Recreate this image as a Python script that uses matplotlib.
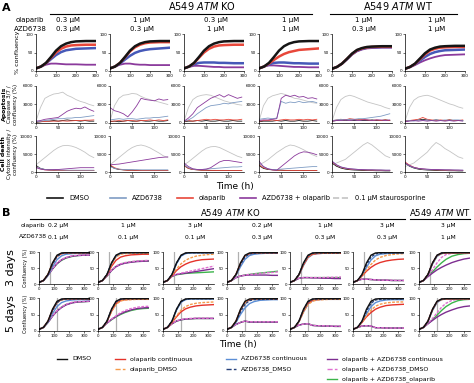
import matplotlib
matplotlib.use('Agg')
import matplotlib.pyplot as plt
from matplotlib.lines import Line2D

# ---------------- panel A data ----------------
a_ola_conc = ['0.3 μM', '1 μM', '0.3 μM', '1 μM', '1 μM', '1 μM']
a_azd_conc = ['0.3 μM', '0.3 μM', '1 μM', '1 μM', '0.3 μM', '1 μM']

t_conf = [0, 25, 50, 75, 100, 125, 150, 175, 200, 250, 300]
conf_dmso = [
    [7, 12, 22, 38, 55, 67, 74, 78, 80, 81, 81],
    [7, 12, 22, 38, 55, 67, 74, 78, 80, 81, 81],
    [7, 12, 22, 38, 55, 67, 74, 78, 80, 81, 81],
    [7, 12, 22, 38, 55, 67, 74, 78, 80, 81, 81],
    [6, 11, 20, 33, 47, 57, 62, 65, 66, 67, 67],
    [6, 11, 20, 34, 48, 58, 63, 66, 67, 68, 68],
]
conf_ola = [
    [7, 12, 21, 36, 50, 60, 66, 69, 70, 71, 71],
    [7, 12, 22, 37, 53, 64, 71, 75, 77, 78, 78],
    [7, 12, 21, 36, 50, 60, 66, 69, 70, 71, 71],
    [7, 12, 20, 30, 39, 46, 51, 54, 57, 59, 61],
    [6, 11, 20, 33, 46, 56, 61, 64, 65, 66, 66],
    [6, 11, 19, 32, 45, 55, 60, 63, 64, 65, 65],
]
conf_azd = [
    [7, 12, 20, 32, 43, 51, 56, 58, 60, 61, 62],
    [7, 12, 20, 31, 41, 49, 54, 57, 59, 61, 63],
    [7, 12, 18, 22, 23, 23, 23, 22, 22, 21, 21],
    [7, 12, 18, 22, 23, 23, 22, 21, 21, 20, 20],
    [6, 11, 20, 32, 45, 55, 60, 63, 64, 65, 65],
    [6, 11, 18, 28, 38, 46, 51, 54, 56, 57, 58],
]
conf_combo = [
    [7, 12, 17, 20, 20, 19, 18, 18, 18, 17, 17],
    [7, 12, 17, 20, 20, 18, 17, 17, 16, 16, 16],
    [7, 11, 14, 14, 13, 12, 11, 11, 10, 10, 10],
    [7, 12, 15, 15, 14, 13, 12, 11, 11, 10, 10],
    [6, 11, 19, 31, 44, 53, 58, 61, 62, 63, 63],
    [6, 10, 16, 23, 29, 34, 38, 41, 43, 44, 45],
]

t_apo = [0, 10, 20, 30, 40, 50, 60, 70, 80, 90, 100, 110, 120, 130]
apo_stau = [
    [300, 2500, 4000, 4400, 4700, 4800, 5000, 4500, 4200, 3800, 3500, 3300, 3000, 2800],
    [300, 2800, 4000, 4500, 4600, 4800, 4700, 4300, 4000, 3800, 3600, 3400, 3200, 3000],
    [300, 2500, 3800, 4300, 4500, 4600, 4500, 4200, 3900, 3600, 3400, 3200, 3000, 2900],
    [300, 2800, 4000, 4400, 4600, 4800, 4600, 4300, 4000, 3900, 3700, 3500, 3300, 3200],
    [300, 2500, 3800, 4300, 4500, 4300, 4000, 3700, 3400, 3200, 3000, 2800, 2500, 2300],
    [300, 2500, 3700, 4200, 4400, 4500, 4300, 4000, 3700, 3400, 3100, 2900, 2600, 2400],
]
apo_combo = [
    [300, 400, 600, 700, 800, 900, 1400, 1900, 2200, 2400, 2300, 2600, 2200, 1900],
    [2500, 2000, 1800, 1500, 1000, 1800, 2800, 4000, 3800, 3700, 3600, 3900, 3700, 3800],
    [300, 800, 1500, 2500, 3000, 3500, 4000, 4300, 4600, 4200, 4600, 4300, 4000, 4200],
    [400, 500, 500, 600, 700, 4000, 4500, 4300, 4500, 4200, 4300, 4000, 4100, 3900],
    [300, 400, 400, 500, 400, 500, 400, 500, 500, 400, 500, 500, 400, 500],
    [200, 300, 400, 300, 400, 300, 400, 300, 400, 300, 400, 300, 400, 300],
]
apo_azd = [
    [200, 300, 400, 500, 600, 700, 700, 800, 800, 900, 900, 1000, 1100, 1200],
    [500, 600, 700, 600, 700, 700, 600, 700, 800, 800, 900, 900, 1000, 1100],
    [300, 500, 900, 1500, 2000, 2500, 2800, 2900, 3000, 3200, 3100, 3300, 3400, 3500],
    [600, 700, 800, 700, 800, 3500, 3200, 3400, 3300, 3500, 3300, 3400, 3500, 3300],
    [400, 500, 600, 500, 600, 600, 700, 700, 800, 900, 1000, 1100, 1300, 1500],
    [300, 400, 300, 500, 400, 500, 400, 500, 400, 500, 400, 500, 500, 400],
]
apo_ola = [
    [200, 200, 250, 300, 300, 300, 350, 300, 350, 400, 400, 450, 450, 500],
    [300, 300, 400, 300, 400, 400, 300, 400, 400, 500, 400, 500, 400, 500],
    [300, 400, 300, 400, 500, 600, 500, 600, 500, 500, 600, 500, 500, 600],
    [300, 400, 400, 500, 400, 500, 600, 500, 500, 600, 500, 600, 500, 600],
    [300, 500, 600, 500, 700, 600, 500, 600, 500, 400, 500, 400, 500, 400],
    [300, 400, 500, 600, 900, 600, 500, 400, 500, 400, 500, 400, 400, 500],
]
apo_dmso = [
    [100, 200, 300, 300, 400, 300, 400, 500, 400, 400, 300, 400, 300, 300],
    [200, 300, 200, 300, 400, 300, 300, 400, 300, 300, 400, 300, 300, 400],
    [200, 300, 300, 400, 300, 400, 300, 300, 400, 300, 300, 400, 300, 300],
    [200, 300, 300, 300, 400, 300, 400, 300, 300, 400, 300, 300, 400, 300],
    [300, 400, 500, 400, 500, 400, 500, 400, 400, 500, 400, 400, 500, 400],
    [300, 400, 400, 500, 600, 500, 400, 500, 400, 400, 500, 400, 400, 400],
]

t_cyt = [0, 10, 20, 30, 40, 50, 60, 70, 80, 90, 100, 110, 120, 130]
cyt_stau = [
    [2000, 3000, 4000, 5000, 6000, 6800, 7300, 7400, 7200, 6800, 6200, 5500, 4600, 4000],
    [2000, 3000, 4000, 5000, 6000, 6800, 7300, 7500, 7200, 6700, 6000, 5300, 4500, 4000],
    [2000, 2800, 3800, 4800, 5800, 6600, 7000, 7100, 6800, 6200, 5600, 5000, 4400, 4000],
    [2000, 2600, 3400, 4400, 5400, 6200, 7000, 7500, 7300, 6800, 6200, 5500, 4800, 4300],
    [2000, 2500, 3000, 3500, 4500, 5500, 6500, 7500, 8200, 7500, 6500, 5500, 4500, 4000],
    [1500, 2000, 2500, 3500, 4500, 5500, 7000, 8200, 7500, 6500, 5800, 5000, 4200, 3800],
]
cyt_combo = [
    [1200, 800, 600, 600, 650, 700, 800, 900, 1000, 1100, 1200, 1200, 1200, 1200],
    [2000, 2100, 2200, 2400, 2600, 2800, 3000, 3200, 3400, 3600, 3800, 4000, 4100, 4200],
    [2500, 1500, 900, 700, 700, 800, 1200, 2000, 2800, 3200, 3200, 3000, 2800, 2600],
    [3000, 1500, 900, 600, 500, 1500, 2500, 3500, 4500, 5200, 5600, 5500, 5200, 4800],
    [3000, 2000, 1400, 1100, 900, 800, 700, 650, 600, 600, 550, 550, 500, 500],
    [2500, 1800, 1300, 1000, 900, 800, 700, 700, 650, 600, 600, 550, 550, 500],
]
cyt_azd = [
    [1500, 1000, 700, 600, 600, 550, 550, 500, 500, 500, 500, 500, 500, 500],
    [1500, 1000, 800, 700, 700, 650, 650, 600, 600, 600, 600, 600, 600, 600],
    [2000, 1200, 800, 700, 700, 800, 900, 1000, 1100, 1200, 1300, 1400, 1400, 1500],
    [2500, 1500, 900, 700, 700, 800, 900, 1000, 1100, 1200, 1300, 1400, 1500, 1500],
    [3000, 2000, 1400, 1100, 900, 800, 700, 650, 600, 600, 550, 550, 500, 500],
    [2500, 1700, 1200, 1000, 800, 700, 700, 650, 600, 600, 550, 550, 500, 500],
]
cyt_ola = [
    [1500, 900, 600, 500, 500, 450, 400, 400, 400, 400, 400, 400, 400, 400],
    [2000, 1200, 800, 600, 500, 500, 450, 450, 400, 400, 400, 400, 400, 400],
    [1800, 1000, 700, 600, 500, 500, 450, 450, 400, 400, 400, 400, 400, 400],
    [2000, 1200, 800, 600, 500, 500, 450, 450, 400, 400, 400, 400, 400, 400],
    [2800, 1900, 1300, 1000, 800, 700, 650, 600, 550, 500, 500, 450, 450, 400],
    [2800, 1900, 1300, 1000, 800, 700, 650, 600, 550, 500, 500, 450, 450, 400],
]
cyt_dmso = [
    [1800, 1000, 700, 600, 500, 500, 400, 400, 400, 400, 400, 400, 400, 400],
    [1800, 1000, 700, 600, 500, 500, 400, 400, 400, 400, 400, 400, 400, 400],
    [1800, 1000, 700, 600, 500, 500, 400, 400, 400, 400, 400, 400, 400, 400],
    [1800, 1000, 700, 600, 500, 500, 400, 400, 400, 400, 400, 400, 400, 400],
    [2500, 1600, 1100, 800, 650, 550, 500, 450, 400, 400, 350, 350, 300, 300],
    [2500, 1600, 1100, 800, 650, 550, 500, 450, 400, 400, 350, 350, 300, 300],
]

# ---------------- panel B data ----------------
b_ola_conc = ['0.2 μM', '1 μM', '3 μM', '0.2 μM', '1 μM', '3 μM', '3 μM']
b_azd_conc = ['0.1 μM', '0.1 μM', '0.1 μM', '0.3 μM', '0.3 μM', '0.3 μM', '1 μM']
b_release = [72, 120]          # time of drug release (3 days, 5 days)

tb = [0, 30, 60, 90, 120, 150, 180, 220, 260, 300, 340]
b_dmso = [5, 11, 30, 66, 90, 97, 98, 98, 98, 98, 98]

b3_ola = [
    [5, 11, 30, 63, 87, 95, 97, 97, 97, 97, 97],
    [5, 11, 28, 55, 74, 84, 88, 91, 92, 93, 93],
    [5, 11, 26, 42, 54, 62, 68, 73, 76, 77, 78],
    [5, 11, 30, 64, 88, 95, 97, 97, 97, 97, 97],
    [5, 11, 29, 60, 84, 93, 95, 96, 96, 96, 96],
    [5, 11, 25, 40, 52, 61, 67, 72, 75, 77, 78],
    [5, 11, 30, 65, 89, 96, 97, 97, 97, 97, 97],
]
b3_ola_d = [
    [5, 11, 31, 64, 88, 95, 97, 97, 97, 97, 97],
    [5, 11, 29, 60, 84, 93, 95, 96, 96, 96, 96],
    [5, 11, 27, 47, 63, 74, 81, 87, 90, 92, 93],
    [5, 11, 30, 63, 87, 95, 97, 97, 97, 97, 97],
    [5, 11, 29, 61, 85, 94, 96, 96, 96, 96, 96],
    [5, 11, 26, 44, 61, 75, 83, 89, 92, 94, 95],
    [5, 11, 30, 64, 88, 95, 97, 97, 97, 97, 97],
]
b3_azd = [
    [5, 11, 27, 54, 76, 88, 93, 95, 96, 96, 96],
    [5, 11, 29, 62, 86, 95, 97, 97, 97, 97, 97],
    [5, 11, 29, 63, 87, 95, 97, 97, 97, 97, 97],
    [5, 11, 27, 54, 77, 89, 93, 95, 96, 96, 96],
    [5, 11, 28, 58, 82, 92, 95, 96, 96, 96, 96],
    [5, 11, 27, 52, 75, 88, 93, 95, 96, 96, 96],
    [5, 11, 29, 62, 86, 95, 97, 97, 97, 97, 97],
]
b3_azd_d = [
    [5, 11, 29, 62, 86, 95, 97, 97, 97, 97, 97],
    [5, 11, 30, 65, 89, 96, 98, 98, 98, 98, 98],
    [5, 11, 30, 65, 89, 96, 98, 98, 98, 98, 98],
    [5, 11, 29, 61, 85, 94, 96, 97, 97, 97, 97],
    [5, 11, 30, 64, 88, 96, 97, 97, 97, 97, 97],
    [5, 11, 29, 60, 84, 94, 96, 97, 97, 97, 97],
    [5, 11, 30, 65, 89, 96, 98, 98, 98, 98, 98],
]
b3_combo = [
    [5, 11, 27, 47, 64, 75, 82, 87, 89, 90, 90],
    [5, 11, 25, 42, 54, 61, 65, 68, 70, 71, 72],
    [5, 11, 24, 30, 32, 34, 36, 39, 42, 45, 48],
    [5, 11, 20, 25, 27, 28, 28, 28, 28, 27, 27],
    [5, 11, 18, 20, 20, 19, 19, 18, 18, 17, 17],
    [5, 11, 15, 15, 14, 13, 12, 12, 11, 11, 11],
    [5, 11, 23, 34, 44, 52, 59, 67, 73, 78, 81],
]
b3_combo_d = [
    [5, 11, 27, 48, 66, 77, 83, 88, 90, 91, 91],
    [5, 11, 25, 43, 56, 63, 67, 70, 72, 73, 74],
    [5, 11, 24, 31, 34, 37, 40, 44, 48, 52, 56],
    [5, 11, 20, 25, 28, 30, 31, 33, 35, 36, 38],
    [5, 11, 18, 20, 20, 20, 20, 20, 21, 21, 22],
    [5, 11, 15, 15, 14, 13, 12, 12, 12, 11, 11],
    [5, 11, 25, 45, 66, 83, 92, 96, 97, 97, 97],
]
b3_combo_o = [
    [5, 11, 27, 47, 63, 74, 81, 86, 89, 90, 90],
    [5, 11, 25, 42, 55, 62, 66, 69, 71, 72, 72],
    [5, 11, 24, 29, 31, 33, 34, 35, 36, 37, 38],
    [5, 11, 20, 25, 28, 30, 32, 34, 36, 38, 40],
    [5, 11, 18, 20, 20, 20, 20, 20, 20, 20, 20],
    [5, 11, 15, 15, 14, 13, 12, 12, 11, 11, 11],
    [5, 11, 24, 38, 53, 66, 77, 87, 92, 95, 96],
]

b5_ola = [
    [5, 11, 30, 63, 87, 95, 97, 97, 97, 97, 97],
    [5, 11, 29, 60, 83, 92, 95, 96, 96, 96, 96],
    [5, 11, 26, 43, 58, 67, 72, 76, 78, 79, 80],
    [5, 11, 30, 63, 87, 95, 97, 97, 97, 97, 97],
    [5, 11, 29, 60, 84, 93, 95, 96, 96, 96, 96],
    [5, 11, 26, 43, 56, 66, 72, 77, 79, 80, 81],
    [5, 11, 30, 65, 89, 96, 97, 97, 97, 97, 97],
]
b5_ola_d = [
    [5, 11, 30, 62, 86, 94, 96, 97, 97, 97, 97],
    [5, 11, 29, 59, 80, 91, 94, 95, 96, 96, 96],
    [5, 11, 27, 46, 63, 74, 80, 84, 86, 87, 88],
    [5, 11, 30, 62, 86, 94, 96, 97, 97, 97, 97],
    [5, 11, 28, 57, 80, 90, 94, 95, 96, 96, 96],
    [5, 11, 26, 46, 63, 75, 81, 85, 87, 88, 88],
    [5, 11, 30, 64, 88, 95, 97, 97, 97, 97, 97],
]
b5_azd = [
    [5, 11, 27, 53, 74, 86, 91, 94, 95, 95, 95],
    [5, 11, 29, 62, 86, 95, 97, 97, 97, 97, 97],
    [5, 11, 29, 63, 87, 95, 97, 97, 97, 97, 97],
    [5, 11, 26, 50, 70, 83, 89, 93, 94, 95, 95],
    [5, 11, 28, 58, 82, 92, 95, 96, 96, 96, 96],
    [5, 11, 27, 52, 74, 86, 91, 94, 95, 95, 95],
    [5, 11, 29, 62, 86, 95, 97, 97, 97, 97, 97],
]
b5_azd_d = [
    [5, 11, 29, 62, 86, 95, 97, 97, 97, 97, 97],
    [5, 11, 30, 65, 89, 96, 98, 98, 98, 98, 98],
    [5, 11, 30, 65, 89, 96, 98, 98, 98, 98, 98],
    [5, 11, 28, 58, 81, 92, 95, 96, 96, 96, 96],
    [5, 11, 30, 64, 88, 96, 97, 97, 97, 97, 97],
    [5, 11, 29, 60, 84, 94, 96, 97, 97, 97, 97],
    [5, 11, 30, 65, 89, 96, 98, 98, 98, 98, 98],
]
b5_combo = [
    [5, 11, 26, 45, 60, 71, 79, 85, 88, 89, 90],
    [5, 11, 24, 35, 44, 52, 58, 64, 68, 70, 71],
    [5, 11, 22, 30, 34, 36, 37, 38, 38, 38, 38],
    [5, 11, 20, 26, 30, 27, 27, 27, 27, 27, 27],
    [5, 11, 18, 21, 22, 17, 16, 15, 15, 14, 14],
    [5, 11, 15, 16, 15, 10, 10, 9, 9, 9, 9],
    [5, 11, 22, 32, 42, 50, 57, 64, 70, 74, 76],
]
b5_combo_d = [
    [5, 11, 26, 46, 62, 73, 81, 87, 89, 90, 91],
    [5, 11, 24, 36, 46, 55, 62, 68, 72, 74, 75],
    [5, 11, 22, 31, 35, 37, 38, 39, 39, 39, 39],
    [5, 11, 20, 26, 30, 28, 28, 28, 28, 28, 28],
    [5, 11, 18, 21, 22, 17, 16, 16, 15, 15, 15],
    [5, 11, 15, 16, 15, 10, 10, 9, 9, 9, 9],
    [5, 11, 23, 38, 55, 72, 84, 93, 96, 97, 97],
]
b5_combo_o = [
    [5, 11, 26, 45, 61, 72, 80, 86, 88, 89, 90],
    [5, 11, 24, 34, 43, 50, 56, 62, 66, 68, 69],
    [5, 11, 22, 30, 34, 36, 37, 38, 38, 38, 38],
    [5, 11, 20, 26, 30, 27, 27, 27, 27, 27, 27],
    [5, 11, 18, 21, 22, 17, 16, 15, 15, 14, 14],
    [5, 11, 15, 16, 15, 10, 10, 9, 9, 9, 9],
    [5, 11, 22, 34, 48, 62, 74, 85, 92, 95, 96],
]

# ---------------- layout (pixels) ----------------
W, H = 474, 383
fig = plt.figure(figsize=(W / 100, H / 100), dpi=100)


def box(x, y, w, h):
    return [x / W, 1 - (y + h) / H, w / W, h / H]


def ftext(x, y, s, **kw):
    kw.setdefault('ha', 'center')
    kw.setdefault('va', 'center')
    fig.text(x / W, 1 - y / H, s, **kw)


def fline(x0, x1, y, **kw):
    fig.add_artist(Line2D([x0 / W, x1 / W], [1 - y / H, 1 - y / H],
                          transform=fig.transFigure, **kw))


def style(ax, xlim, xticks, ylim, yticks):
    ax.set_xlim(*xlim)
    ax.set_ylim(*ylim)
    ax.set_xticks(xticks)
    ax.set_yticks(yticks)
    ax.tick_params(labelsize=3.0, length=1.5, width=0.4, pad=0.6)
    for s in ['top', 'right']:
        ax.spines[s].set_visible(False)
    for s in ['left', 'bottom']:
        ax.spines[s].set_linewidth(0.5)


c_dmso = '#151515'
c_azd = '#4659b8'
c_azd_leg = '#7f9cc4'
c_ola = '#e8473a'
c_combo = '#8b3a9c'
c_stau = '#c4c4c4'

a_x = [36, 110, 184, 259, 332, 405]
a_w = 60

# ---- Panel A headers ----
ftext(6, 8, 'A', fontsize=8, fontweight='bold')
ftext(202, 6, 'A549 $\\mathit{ATM}$ KO', fontsize=7)
fline(50, 312, 14, color='k', lw=0.8)
ftext(398, 6, 'A549 $\\mathit{ATM}$ WT', fontsize=7)
fline(330, 457, 14, color='k', lw=0.8)
ftext(30, 20, 'olaparib', fontsize=5)
ftext(30, 29, 'AZD6738', fontsize=5)
for i in range(6):
    ftext(a_x[i] + a_w / 2 + 2, 20, a_ola_conc[i], fontsize=5)
    ftext(a_x[i] + a_w / 2 + 2, 29, a_azd_conc[i], fontsize=5)

# ---- Panel A row 1: confluency ----
for i in range(6):
    ax = fig.add_axes(box(a_x[i], 34, a_w, 37))
    ax.plot(t_conf, conf_combo[i], color=c_combo, lw=1.3)
    ax.plot(t_conf, conf_azd[i], color=c_azd, lw=1.8)
    ax.plot(t_conf, conf_ola[i], color=c_ola, lw=1.8)
    ax.plot(t_conf, conf_dmso[i], color=c_dmso, lw=1.8)
    style(ax, (0, 300), [0, 100, 200, 300], (0, 100), [0, 50, 100])

# ---- Panel A row 2: apoptosis ----
for i in range(6):
    ax = fig.add_axes(box(a_x[i], 86, a_w, 37))
    ax.plot(t_apo, apo_stau[i], color=c_stau, lw=0.6)
    ax.plot(t_apo, apo_dmso[i], color=c_dmso, lw=0.6)
    ax.plot(t_apo, apo_ola[i], color=c_ola, lw=0.6)
    ax.plot(t_apo, apo_azd[i], color=c_azd_leg, lw=0.6)
    ax.plot(t_apo, apo_combo[i], color=c_combo, lw=0.6)
    style(ax, (0, 135), [0, 50, 100], (0, 6000), [0, 3000, 6000])

# ---- Panel A row 3: cell death ----
for i in range(6):
    ax = fig.add_axes(box(a_x[i], 136, a_w, 36))
    ax.plot(t_cyt, cyt_stau[i], color=c_stau, lw=0.6)
    ax.plot(t_cyt, cyt_dmso[i], color=c_dmso, lw=0.6)
    ax.plot(t_cyt, cyt_ola[i], color=c_ola, lw=0.6)
    ax.plot(t_cyt, cyt_azd[i], color=c_azd_leg, lw=0.6)
    ax.plot(t_cyt, cyt_combo[i], color=c_combo, lw=0.6)
    style(ax, (0, 135), [0, 50, 100], (0, 10000), [0, 5000, 10000])

ftext(18, 52, '% confluency', fontsize=4.6, rotation=90)
ftext(4, 104, 'Apoptosis', fontsize=4.4, fontweight='bold', rotation=90)
ftext(10, 104, 'Caspase 3/7 /', fontsize=4, rotation=90)
ftext(16, 104, 'confluency (%)', fontsize=4, rotation=90)
ftext(4, 154, 'Cell death', fontsize=4.4, fontweight='bold', rotation=90)
ftext(10, 154, 'Cytotox intensity /', fontsize=4, rotation=90)
ftext(16, 154, 'confluency (%)', fontsize=4, rotation=90)
ftext(235, 186, 'Time (h)', fontsize=6.5)

# ---- Panel A legend ----
a_leg = [(47, 'DMSO', c_dmso, '-'), (110, 'AZD6738', c_azd_leg, '-'),
         (177, 'olaparib', c_ola, '-'), (240, 'AZD6738 + olaparib', c_combo, '-'),
         (333, '0.1 μM staurosporine', c_stau, '--')]
for x0, lab, col, ls in a_leg:
    fline(x0, x0 + 16, 198, color=col, lw=1.2, ls=ls)
    ftext(x0 + 22, 198, lab, fontsize=4.8, ha='left')

# ---- Panel B ----
cb_dmso = '#111111'
cb_ola = '#e5332a'
cb_ola_d = '#f59a4a'
cb_azd = '#5b8ed6'
cb_azd_d = '#26407a'
cb_combo = '#7d2d91'
cb_combo_d = '#e070d0'
cb_combo_o = '#3cb44b'

ftext(6, 213, 'B', fontsize=8, fontweight='bold')
ftext(230, 212, 'A549 $\\mathit{ATM}$ KO', fontsize=6.2)
fline(30, 405, 219, color='k', lw=0.8)
ftext(440, 212, 'A549 $\\mathit{ATM}$ WT', fontsize=6.2)
fline(410, 470, 219, color='k', lw=0.8)
ftext(33, 226, 'olaparib', fontsize=4.3)
ftext(33, 237, 'AZD6738', fontsize=4.3)
b_hx = [58, 128, 195, 262, 325, 387, 448]
for i in range(7):
    ftext(b_hx[i], 226, b_ola_conc[i], fontsize=4.3)
    ftext(b_hx[i], 237, b_azd_conc[i], fontsize=4.3)

b_x = [39, 98, 163, 227, 290, 353, 419]
b_rows = [(252, 32, b3_ola, b3_ola_d, b3_azd, b3_azd_d, b3_combo, b3_combo_d, b3_combo_o),
          (298, 33, b5_ola, b5_ola_d, b5_azd, b5_azd_d, b5_combo, b5_combo_d, b5_combo_o)]
for r, (y0, h, ola, ola_d, azd, azd_d, cmb, cmb_d, cmb_o) in enumerate(b_rows):
    for i in range(7):
        ax = fig.add_axes(box(b_x[i], y0, 51, h))
        ax.axvline(b_release[r], color='#b0b0b0', lw=0.9)
        ax.plot(tb, cmb_o[i], color=cb_combo_o, lw=1.0)
        ax.plot(tb, cmb[i], color=cb_combo, lw=1.0)
        ax.plot(tb, cmb_d[i], color=cb_combo_d, lw=1.0, ls='--', dashes=(2, 1))
        ax.plot(tb, azd[i], color=cb_azd, lw=1.0)
        ax.plot(tb, ola[i], color=cb_ola, lw=1.0)
        ax.plot(tb, ola_d[i], color=cb_ola_d, lw=1.0, ls='--', dashes=(2, 1))
        ax.plot(tb, azd_d[i], color=cb_azd_d, lw=1.0, ls='--', dashes=(2, 1))
        ax.plot(tb, b_dmso, color=cb_dmso, lw=1.0)
        style(ax, (0, 340), [0, 100, 200, 300], (0, 100), [0, 50, 100])
        ax.tick_params(labelsize=2.8)

ftext(11, 268, '3 days', fontsize=8, rotation=90)
ftext(11, 314, '5 days', fontsize=8, rotation=90)
ftext(25, 268, 'Confluency (%)', fontsize=3.6, rotation=90)
ftext(25, 314, 'Confluency (%)', fontsize=3.6, rotation=90)
ftext(238, 345, 'Time (h)', fontsize=6.5)

b_leg = [(57, 359, 'DMSO', cb_dmso, '-'),
         (115, 359, 'olaparib continuous', cb_ola, '-'),
         (115, 369, 'olaparib_DMSO', cb_ola_d, '--'),
         (226, 359, 'AZD6738 continuous', cb_azd, '-'),
         (226, 369, 'AZD6738_DMSO', cb_azd_d, '--'),
         (327, 359, 'olaparib + AZD6738 continuous', cb_combo, '-'),
         (327, 369, 'olaparib + AZD6738_DMSO', cb_combo_d, '--'),
         (327, 379, 'olaparib + AZD6738_olaparib', cb_combo_o, '-')]
for x0, y0, lab, col, ls in b_leg:
    fline(x0, x0 + 10, y0, color=col, lw=1.0, ls=ls)
    ftext(x0 + 15, y0, lab, fontsize=4.5, ha='left')

fig.savefig('out.png', dpi=100)
